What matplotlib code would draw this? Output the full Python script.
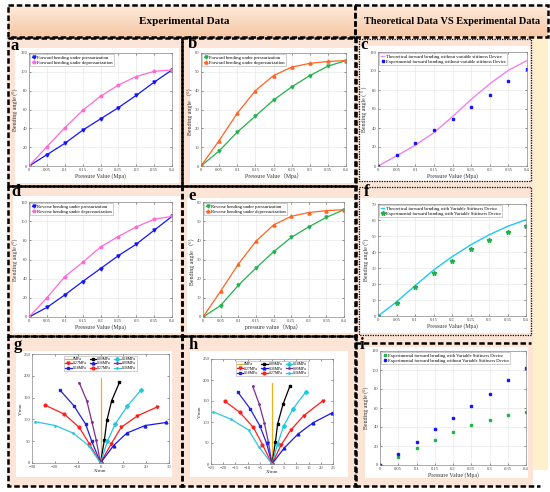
import matplotlib
matplotlib.use("Agg")
import matplotlib.pyplot as plt
import numpy as np
from matplotlib.patches import Rectangle

plt.rcParams['font.family'] = ['Liberation Serif', 'Noto Sans CJK SC', 'DejaVu Sans']

W, H = 550, 492

# ---- data ----
pressure = [0, 0.05, 0.1, 0.15, 0.2, 0.25, 0.3, 0.35, 0.4]
a_press = [0, 12, 24, 38, 50, 62, 75, 89, 102]
a_depress = [0, 20.5, 40.5, 59, 74, 86, 95, 100.5, 102]
b_press = [0, 8, 18, 26.5, 35, 42, 48, 53, 56]
b_depress = [0, 13.5, 28, 40, 48, 52.5, 54.5, 55.5, 56]
c_theory = [0, 10.6, 22, 35, 52, 70, 86.5, 100.7, 111]
c_exp = [0, 12, 24, 38, 50, 62, 75, 89, 102]
d_press = [0, 10, 23, 37, 50.5, 64, 76, 90.5, 105]
d_depress = [0, 20, 42, 57, 73, 84, 94, 102, 105]
e_press = [0, 6, 16.5, 25.5, 34, 41.5, 47, 52, 56]
e_depress = [0, 13.5, 27.5, 39.5, 48, 52.5, 54.5, 55.5, 56]
f_theory = [0, 8.8, 18.9, 28.7, 37, 44.4, 50.7, 56, 60.2]
f_exp = [0, 8, 18, 26.6, 34.6, 42, 47.8, 52.8, 56]
i_with = [0, 8, 18, 26.6, 34.6, 42, 47.8, 52.8, 56]
i_without = [0, 12, 24, 38, 50, 62, 75, 89, 102]

traj_labels = ['0MPa', '0.09MPa', '0.18MPa', '0.27MPa', '0.36MPa',
               '0.09MPa', '0.18MPa', '0.27MPa', '0.36MPa']
g_x = [[0, 0],
       [0, 1.7, 2.8, 4.9, 8.3],
       [0, 3, 6.4, 11.8, 17.9],
       [0, 4.7, 9, 16.1, 24.6],
       [0, 5.7, 11.5, 19.6, 28.8],
       [0, -1.9, -3.8, -6, -9.3],
       [0, -3.8, -6.5, -11.6, -17.9],
       [0, -4.9, -9.3, -15.8, -24.4],
       [0, -5.2, -12, -19.8, -28.5]]
g_y = [[0, 194],
       [0, 53, 97.5, 143, 185],
       [0, 49.5, 89, 131, 168],
       [0, 44, 81.5, 108, 128],
       [0, 40, 68.6, 86, 93],
       [0, 53, 95, 143, 184],
       [0, 49.5, 89, 131, 168],
       [0, 44, 81.5, 112, 133],
       [0, 40, 68.6, 86, 94.5]]
h_x = [[0, 0],
       [0, 1.4, 2.3, 4.5, 7.3],
       [0, 2.3, 4.8, 8.7, 13.9],
       [0, 3.7, 7.7, 13, 20.7],
       [0, 5, 10.6, 16.8, 24.7],
       [0, -1.5, -3.1, -5.2, -7.9],
       [0, -2.2, -5, -9, -14.1],
       [0, -3.9, -7.6, -13.2, -19.4],
       [0, -5.4, -9.6, -17, -24]]
h_y = [[0, 194],
       [0, 52.5, 95, 142, 185],
       [0, 48, 91, 132, 172],
       [0, 45, 81, 115, 150],
       [0, 38, 71, 98, 122],
       [0, 52.5, 97, 142, 185],
       [0, 49, 91, 132, 172],
       [0, 46, 87, 123, 150],
       [0, 41, 81, 107, 124]]
traj_colors = ['#EDB120', '#000000', '#22C8E0', '#FF1A1A', '#1A1AE6',
               '#7E2F8E', '#2424D0', '#FF2020', '#33C3DD']
traj_markers = [None, 's', 'D', 'v', '^', '.', 's', 'o', '.']

fig = plt.figure(figsize=(W / 100, H / 100), dpi=100)
bg = fig.add_axes([0, 0, 1, 1], zorder=-5)
bg.axis('off')

peach = '#FCE4D6'
# section fills
bg.add_patch(Rectangle((7, 37), 348, 450, fc=peach, ec='none'))
bg.add_patch(Rectangle((355, 37), 178, 450, fc=peach, ec='none'))
bg.add_patch(Rectangle((533, 37), 15, 433, fc='#FFF0CC', ec='none'))

# header gradient
grad = np.linspace(0, 1, 50).reshape(-1, 1)
cmap = matplotlib.colors.LinearSegmentedColormap.from_list('hdr', ['#FDEBDD', '#F7C7A4'])
bg.imshow(grad, extent=(8, 548, 37, 5), cmap=cmap, aspect='auto', zorder=0)
bg.set_xlim(0, W)
bg.set_ylim(H, 0)

# white panel backgrounds
whites = [(15, 48, 179, 183), (190, 48, 354, 183), (360, 46, 530, 181),
          (13, 196, 180, 333), (187, 198, 355, 333), (360, 198, 530, 333),
          (16, 351, 172, 477), (190, 351, 348, 477), (365, 347, 528, 478)]
for x0, y0, x1, y1 in whites:
    bg.add_patch(Rectangle((x0, y0), x1 - x0, y1 - y0, fc='white', ec='none', zorder=1))


def dashed_box(x0, y0, x1, y1, lw=1.8, ls=(0, (2.2, 1.1))):
    bg.add_patch(Rectangle((x0, y0), x1 - x0, y1 - y0, fc='none', ec='black',
                           lw=lw, ls=ls, zorder=3))


dashed_box(8, 5, 355, 37)
dashed_box(355, 5, 548, 37)
for x0, x1 in [(8, 182), (182, 356)]:
    for y0, y1 in [(38, 186), (186, 336), (336, 486)]:
        dashed_box(x0, y0, x1, y1)
dashed_box(359, 39, 531, 181, lw=0.9, ls=(0, (1, 1)))
dashed_box(359, 187, 531, 335, lw=0.9, ls=(0, (1, 1)))
bg.plot([355, 531], [343, 343], color='black', lw=1.8, ls=(0, (2.2, 1.1)), zorder=3)
bg.plot([355, 540], [486, 486], color='black', lw=1.8, ls=(0, (2.2, 1.1)), zorder=3)
bg.plot([355, 355], [37, 486], color='black', lw=1.8, ls=(0, (2.2, 1.1)), zorder=3)

bg.text(184, 22, 'Experimental Data', ha='center', va='center', fontsize=8,
        fontweight='bold', zorder=4)
bg.text(452, 22, 'Theoretical Data VS Experimental Data', ha='center', va='center',
        fontsize=7.4, fontweight='bold', zorder=4)

letters = {'a': (15, 46), 'b': (192, 44), 'c': (364, 45), 'd': (16, 192),
           'e': (192, 196), 'f': (367, 192), 'g': (18, 345), 'h': (193, 345),
           'i': (362, 345)}
for k, (x, y) in letters.items():
    bg.text(x, y, k, ha='center', va='center', fontsize=12, fontweight='bold', zorder=4)


def make_ax(x0, y0, x1, y1):
    ax = fig.add_axes([x0 / W, 1 - y1 / H, (x1 - x0) / W, (y1 - y0) / H])
    for s in ax.spines.values():
        s.set_color('#8A8A8A')
        s.set_linewidth(0.5)
    ax.tick_params(direction='in', length=1.5, width=0.4, labelsize=3.3,
                   pad=1.2, colors='#444444', top=True, right=True)
    return ax


def pressure_ax(ax, ymax, ystep, xlabel, ylabel):
    ax.set_xlim(0, 0.4)
    ax.set_ylim(0, ymax)
    ax.set_xticks(pressure)
    ax.set_xticklabels(['0', '0.05', '0.1', '0.15', '0.2', '0.25', '0.3', '0.35', '0.4'])
    ax.set_yticks(np.arange(0, ymax + 1, ystep))
    ax.grid(True, color='#E4E4E4', lw=0.4)
    ax.set_axisbelow(True)
    ax.set_xlabel(xlabel, fontsize=4.2, labelpad=1, color='#333333')
    ax.set_ylabel(ylabel, fontsize=4.2, labelpad=1, color='#333333')


def small_legend(ax):
    ax.legend(loc='upper left', fontsize=3.3, frameon=True, fancybox=False,
              edgecolor='#AAAAAA', framealpha=1, handlelength=0.8,
              handletextpad=0.3, labelspacing=0.15, borderpad=0.3,
              borderaxespad=0.3).get_frame().set_linewidth(0.4)


blue = '#1414FF'
pink = '#FF6AD5'
green = '#21B24B'
orange = '#FF6420'

# a
ax = make_ax(29, 53, 172, 166)
ax.plot(pressure, a_press, color=blue, marker='v', ms=2.2, lw=0.9,
        label='Forward bending under pressurization')
ax.plot(pressure, a_depress, color=pink, marker='*', ms=2.6, lw=0.9,
        label='Forward bending under depressurization')
pressure_ax(ax, 120, 20, 'Pressure Value (Mpa)', 'Bending angle (°)')
small_legend(ax)

# b
ax = make_ax(201, 53, 346, 166)
ax.plot(pressure, b_press, color=green, marker='v', ms=2.2, lw=0.9,
        label='Forward bending under pressurization')
ax.plot(pressure, b_depress, color=orange, marker='^', ms=2.2, lw=0.9,
        label='Forward bending under depressurization')
pressure_ax(ax, 60, 10, 'Pressure Value（Mpa）', 'Bending angle （°）')
small_legend(ax)

# c
ax = make_ax(378, 52, 527, 166)
ax.plot(pressure, c_theory, color='#EE82EE', lw=1.0,
        label='Theoretical forward bending without variable stiffness Device')
ax.plot(pressure, c_exp, color=blue, marker='s', ms=2.0, ls='none',
        label='Experimental forward bending without variable stiffness Device')
pressure_ax(ax, 120, 20, 'Pressure Value (Mpa)', 'Bending angle ( ° )')
small_legend(ax)

# d
ax = make_ax(29, 202, 172, 317)
ax.plot(pressure, d_press, color=blue, marker='v', ms=2.2, lw=0.9,
        label='Reverse bending under pressurization')
ax.plot(pressure, d_depress, color=pink, marker='*', ms=2.6, lw=0.9,
        label='Reverse bending under depressurization')
pressure_ax(ax, 120, 20, 'Pressure Value (Mpa)', 'Bending angle (°)')
small_legend(ax)

# e
ax = make_ax(203, 202, 344, 317)
ax.plot(pressure, e_press, color=green, marker='v', ms=2.2, lw=0.9,
        label='Reverse bending under pressurization')
ax.plot(pressure, e_depress, color=orange, marker='^', ms=2.2, lw=0.9,
        label='Reverse bending under depressurization')
pressure_ax(ax, 60, 10, 'pressure value（Mpa）', 'Bending angle （°）')
small_legend(ax)

# f
ax = make_ax(378, 204, 526, 316)
ax.plot(pressure, f_theory, color='#1EC8F5', lw=1.0,
        label='Theoretical forward bending with Variable Stiffness Device')
ax.plot(pressure, f_exp, color=green, marker='*', ms=3.5, ls='none',
        label='Experimental forward bending with Variable Stiffness Device')
pressure_ax(ax, 70, 10, 'Pressure Value (Mpa)', 'Bending angle (°)')
small_legend(ax)

# i
ax = make_ax(380, 351, 526, 465)
ax.plot(pressure, i_with, color=green, marker='s', ms=2.0, ls='none',
        label='Experimental forward bending with Variable Stiffness Device')
ax.plot(pressure, i_without, color=blue, marker='s', ms=2.0, ls='none',
        label='Experimental forward bending without Variable Stiffness Device')
pressure_ax(ax, 120, 20, 'Pressure Value (Mpa)', 'Bending angle (°)')
small_legend(ax)


# g, h trajectories
def traj_ax(ax, xs, ys, xlim, xstep):
    handles = []
    for k in range(len(xs)):
        hnd, = ax.plot(xs[k], ys[k], color=traj_colors[k], marker=traj_markers[k],
                       ms=2.0, lw=0.9, label=traj_labels[k])
        handles.append(hnd)
    ax.set_xlim(-xlim, xlim)
    ax.set_ylim(0, 250)
    ax.set_xticks(np.arange(-xlim, xlim + 1, xstep))
    ax.set_yticks(np.arange(0, 251, 50))
    ax.set_xlabel('X/mm', fontsize=3.5, labelpad=0.5, color='#333333')
    ax.set_ylabel('Y/mm', fontsize=3.5, labelpad=0.5, color='#333333')
    order = [0, 3, 6, 1, 4, 7, 2, 5, 8]
    leg = ax.legend([handles[j] for j in order], [traj_labels[j] for j in order],
                    loc='upper center', ncol=3, fontsize=2.8, frameon=True,
                    fancybox=False, edgecolor='#AAAAAA', framealpha=1,
                    handlelength=1.6, handletextpad=0.3, labelspacing=0.1,
                    columnspacing=0.8, borderpad=0.3, borderaxespad=0.5)
    leg.get_frame().set_linewidth(0.4)


ax = make_ax(32, 354, 169, 463)
traj_ax(ax, g_x, g_y, 30, 10)
ax = make_ax(211, 359, 333, 464)
traj_ax(ax, h_x, h_y, 25, 5)

fig.savefig('out.png', dpi=100)
